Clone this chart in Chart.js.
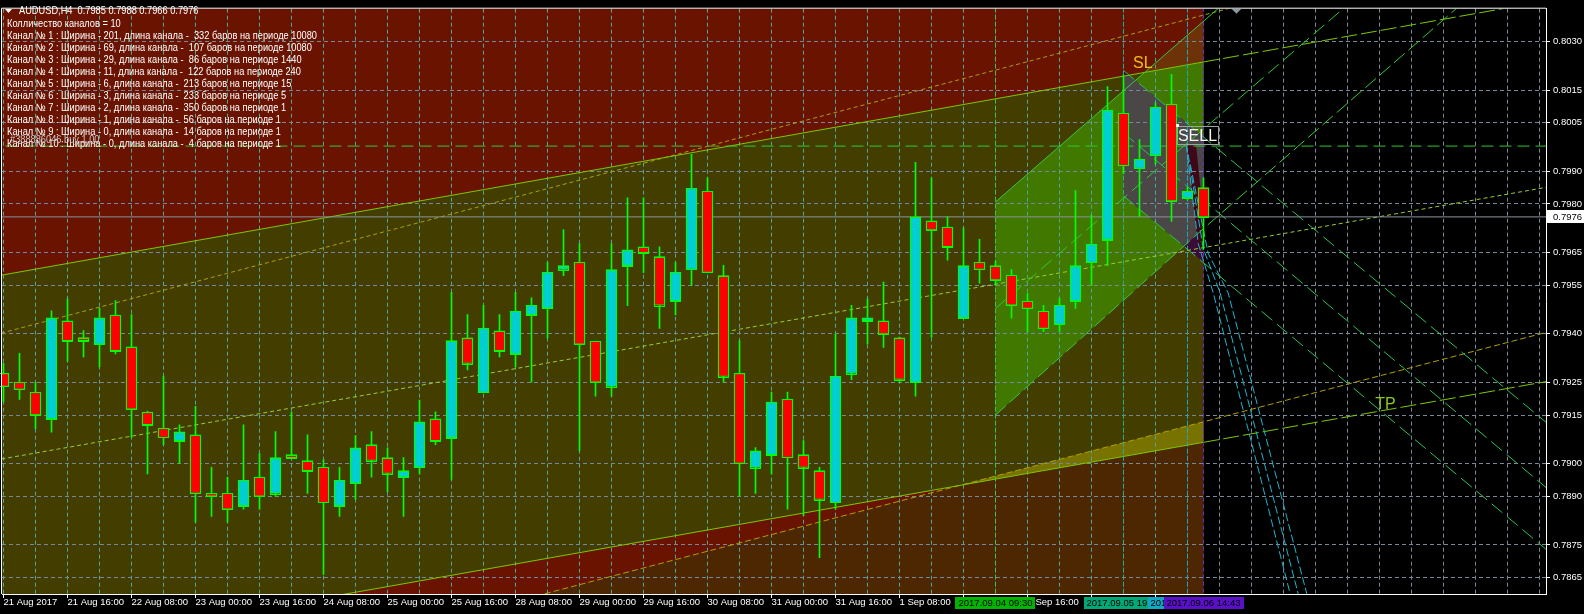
<!DOCTYPE html>
<html>
<head>
<meta charset="utf-8">
<title>AUDUSD,H4</title>
<script src="https://cdn.jsdelivr.net/npm/chart.js@4.4.1/dist/chart.umd.min.js"></script>
<style>
  html, body { margin: 0; padding: 0; background: #000; }
  canvas { display: block; }
</style>
</head>
<body>
<canvas id="chart" width="1584" height="614"></canvas>
<script>
// AUDUSD H4, bar 0 = 21 Aug 2017 00:00 (one bar = 4 hours, weekends skipped)
var opens  = [0.79278,0.79251,0.79220,0.79138,0.79440,0.79388,0.79368,0.79458,0.79360,0.79159,
              0.79109,0.79071,0.79089,0.78901,0.78909,0.78870,0.78959,0.78909,0.79028,0.79010,
              0.78989,0.78870,0.78940,0.79059,0.79019,0.78959,0.78989,0.79138,0.79080,0.79388,
              0.79220,0.79409,0.79338,0.79458,0.79479,0.79598,0.79620,0.79377,0.79238,0.79610,
              0.79668,0.79638,0.79501,0.79598,0.79839,0.79579,0.79278,0.78989,0.79028,0.79199,
              0.79028,0.78979,0.78880,0.79278,0.79440,0.79440,0.79388,0.79251,0.79748,0.79729,
              0.79449,0.79620,0.79610,0.79580,0.79501,0.79470,0.79429,0.79501,0.79620,0.79690,
              0.80079,0.79909,0.79949,0.80107,0.79818,0.79850];
var highs  = [0.79309,0.79340,0.79251,0.79471,0.79508,0.79410,0.79479,0.79502,0.79459,0.79162,
              0.79270,0.79120,0.79177,0.78989,0.78959,0.79120,0.79031,0.79099,0.79159,0.79089,
              0.79013,0.78989,0.79087,0.79099,0.79049,0.79019,0.79196,0.79160,0.79528,0.79459,
              0.79488,0.79459,0.79528,0.79511,0.79620,0.79721,0.79678,0.79378,0.79678,0.79819,
              0.79819,0.79668,0.79620,0.79953,0.79880,0.79611,0.79379,0.79050,0.79221,0.79221,
              0.79071,0.78989,0.79400,0.79488,0.79508,0.79559,0.79390,0.79928,0.79880,0.79760,
              0.79726,0.79691,0.79624,0.79598,0.79524,0.79488,0.79509,0.79841,0.79765,0.80161,
              0.80197,0.79998,0.80111,0.80199,0.79852,0.79880];
var lows   = [0.79191,0.79198,0.79108,0.79097,0.79316,0.79329,0.79298,0.79338,0.79081,0.78969,
              0.79059,0.79001,0.78820,0.78838,0.78820,0.78860,0.78860,0.78900,0.79018,0.78909,
              0.78659,0.78838,0.78890,0.78959,0.78914,0.78838,0.78969,0.79059,0.78952,0.79289,
              0.79219,0.79329,0.79298,0.79251,0.79387,0.79579,0.79040,0.79208,0.79208,0.79487,
              0.79588,0.79417,0.79458,0.79548,0.79588,0.79251,0.78900,0.78909,0.78969,0.78860,
              0.78840,0.78711,0.78860,0.79259,0.79368,0.79358,0.79251,0.79208,0.79389,0.79627,
              0.79448,0.79556,0.79550,0.79448,0.79407,0.79407,0.79407,0.79478,0.79549,0.79610,
              0.79892,0.79761,0.79922,0.79746,0.79812,0.79660];
var closes = [0.79238,0.79229,0.79150,0.79449,0.79379,0.79379,0.79449,0.79348,0.79168,0.79120,
              0.79080,0.79098,0.78909,0.78900,0.78860,0.78949,0.78900,0.79019,0.79019,0.78979,
              0.78880,0.78949,0.79049,0.79010,0.78970,0.78979,0.79129,0.79071,0.79379,0.79309,
              0.79418,0.79348,0.79470,0.79488,0.79589,0.79610,0.79368,0.79251,0.79598,0.79659,
              0.79650,0.79488,0.79589,0.79848,0.79589,0.79269,0.79001,0.79040,0.79190,0.79019,
              0.78989,0.78890,0.79269,0.79449,0.79449,0.79400,0.79260,0.79760,0.79720,0.79668,
              0.79610,0.79598,0.79566,0.79488,0.79478,0.79417,0.79488,0.79610,0.79676,0.80089,
              0.79918,0.79938,0.80098,0.79809,0.79839,0.79760];

// time axis: labelled bars and their labels
var labelBars  = [0, 4, 8, 12, 16, 20, 24, 28, 32, 36, 40, 44, 48, 52, 56, 60, 64, 68, 72];
var timeLabels = ["21 Aug 2017", "21 Aug 16:00", "22 Aug 08:00", "23 Aug 00:00", "23 Aug 16:00",
                  "24 Aug 08:00", "25 Aug 00:00", "25 Aug 16:00", "28 Aug 08:00", "29 Aug 00:00",
                  "29 Aug 16:00", "30 Aug 08:00", "31 Aug 00:00", "31 Aug 16:00", "1 Sep 08:00",
                  "4 Sep 00:00", "4 Sep 16:00", "5 Sep 08:00", "6 Sep 00:00"];

// price axis labels
var priceTicks = [0.8030, 0.8015, 0.8005, 0.7990, 0.7980, 0.7965, 0.7955, 0.7940,
                  0.7925, 0.7915, 0.7900, 0.7890, 0.7875, 0.7865];

// filled channel areas, points are [bar, price]
var redZone    = [[-1, 0.8100], [75, 0.8100], [75, 0.7800], [-1, 0.7800]];
var brownZone  = [[-1, 0.78152], [75, 0.79129], [75, 0.7800], [-1, 0.7800]];
var oliveZone  = [[-1, 0.79573], [75, 0.80237], [75, 0.79066], [-1, 0.78404]];
var yellowZone = [[59.79, 0.78934], [75, 0.79129], [75, 0.79066]];
var greenZone  = [[62, 0.79806], [71.33, 0.80205], [75, 0.80237], [75, 0.79724], [62, 0.79150]];
var rustZone   = [[71.33, 0.80205], [75, 0.80362], [75, 0.80237]];
var shadeZone  = [[70, 0.80211], [75, 0.80006], [75, 0.79620], [70, 0.79825]];
var greyZone   = [[70, 0.80194], [70.34, 0.80197], [75, 0.80006], [75, 0.79724], [73.77, 0.79670], [70, 0.79825]];
var maroonZone = [[73.98, 0.79980], [74.54, 0.79980], [75, 0.79755], [75, 0.79663], [74.67, 0.79663]];

// lines, points are [bar, price]
var oliveTop      = [[-1, 0.79573], [75, 0.80237]];
var oliveTopRay   = [[75, 0.80237], [97, 0.80430]];
var oliveLow      = [[-1, 0.78404], [75, 0.79066]];
var oliveLowRay   = [[75, 0.79066], [97, 0.79258]];
var oliveMid      = [[-1, 0.79007], [97, 0.79856]];
var orangeTop     = [[-1, 0.79391], [97, 0.80668]];
var orangeLow     = [[-1, 0.78152], [97, 0.79412]];
var greenEdgeTop  = [[62, 0.79806], [76.16, 0.80412]];
var greenEdgeLow  = [[62, 0.79150], [75, 0.79724], [92, 0.80453]];
var greenMid      = [[62, 0.79478], [84.67, 0.80441]];
var rayA          = [[70, 0.80211], [97.3, 0.79091]];
var rayB          = [[70, 0.80018], [97.3, 0.78890]];
var rayP          = [[70, 0.79825], [97.3, 0.78700]];
var arc1          = [[73.92, 0.79983], [74.67, 0.79678], [75.61, 0.79526], [80.42, 0.78599]];
var arc2          = [[74.04, 0.79953], [74.98, 0.79663], [76.04, 0.79526], [80.92, 0.78599]];
var arc3          = [[74.17, 0.79922], [75.29, 0.79648], [76.54, 0.79526], [81.46, 0.78599]];
var orderLine     = [[-1, 0.79978], [97, 0.79978]];
var priceLine     = [[-1, 0.79760], [97, 0.79760]];
var vLine62       = [[62, 0.7800], [62, 0.8100]];
var vLine70       = [[70, 0.7800], [70, 0.8100]];
var vLine74       = [[74, 0.7800], [74, 0.8100]];
var vLine75       = [[75, 0.7800], [75, 0.8100]];

// text objects on the chart
var noteTexts  = ["SL", "SELL", "TP"];
var noteBars   = [70.6, 73.34, 85.73];
var notePrices = [0.80218, 0.80039, 0.79170];
var markerBars  = [62, 70, 74, 75];
var markerTexts = ["2017.09.04 09:30", "2017.09.05 19:40", "2017.09.06 08:10", "2017.09.06 14:43"];
var orderText = "#388886046 buy 1.00";
var headerLines = [
  "Колличество каналов = 10",
  "Канал № 1 : Ширина - 201, длина канала -  332 баров на периоде 10080",
  "Канал № 2 : Ширина - 69, длина канала -  107 баров на периоде 10080",
  "Канал № 3 : Ширина - 29, длина канала -  86 баров на периоде 1440",
  "Канал № 4 : Ширина - 11, длина канала -  122 баров на периоде 240",
  "Канал № 5 : Ширина - 6, длина канала -  213 баров на периоде 15",
  "Канал № 6 : Ширина - 3, длина канала -  233 баров на периоде 5",
  "Канал № 7 : Ширина - 2, длина канала -  350 баров на периоде 1",
  "Канал № 8 : Ширина - 1, длина канала -  56 баров на периоде 1",
  "Канал № 9 : Ширина - 0, длина канала -  14 баров на периоде 1",
  "Канал № 10 : Ширина - 0, длина канала -  4 баров на периоде 1"
];

var FONT = '"Liberation Sans", Arial, sans-serif';
var last = opens.length - 1;

// zones in drawing order
var zones = [
  [redZone, '#691300'],
  [brownZone, '#4d2602'],
  [oliveZone, '#433e00'],
  [yellowZone, '#787200'],
  [greenZone, '#417800'],
  [rustZone, '#6e3208'],
  [shadeZone, '#3c0c38'],
  [greyZone, '#4b4747'],
  [maroonZone, '#3e0818']
];

function lineSet(points, color, dash) {
  return {
    type: 'line',
    data: points.map(function(p) { return { x: p[0], y: p[1] }; }),
    borderColor: color,
    borderWidth: 1,
    borderDash: dash || [],
    pointRadius: 0,
    pointHoverRadius: 0,
    tension: 0,
    fill: false,
    order: 3
  };
}

var bodies = {
  type: 'bar',
  data: opens.map(function(o, i) { return { x: i, y: [o, closes[i]] }; }),
  backgroundColor: opens.map(function(o, i) { return closes[i] >= o ? '#00ced1' : '#ff0000'; }),
  borderColor: '#00ff00',
  borderWidth: 1,
  borderSkipped: false,
  barThickness: 11,
  minBarLength: 3,
  grouped: false,
  order: 0
};

var wicks = {
  type: 'bar',
  data: lows.map(function(l, i) { return { x: i, y: [l, highs[i]] }; }),
  backgroundColor: '#00ff00',
  borderWidth: 0,
  barThickness: 1,
  grouped: false,
  order: 1
};

function textScale(ctx, sample, target) {
  return target / ctx.measureText(sample).width;
}

var zonePlugin = {
  id: 'zones',
  beforeDraw: function(chart) {
    var ctx = chart.ctx, a = chart.chartArea;
    var xs = chart.scales.x, ys = chart.scales.y;
    ctx.save();
    ctx.fillStyle = '#000';
    ctx.fillRect(0, 0, chart.width, chart.height);
    ctx.beginPath();
    ctx.rect(a.left, a.top, a.right - a.left, a.bottom - a.top);
    ctx.clip();
    zones.forEach(function(z) {
      ctx.beginPath();
      z[0].forEach(function(p, i) {
        var px = xs.getPixelForValue(p[0]), py = ys.getPixelForValue(p[1]);
        if (i == 0) ctx.moveTo(px, py); else ctx.lineTo(px, py);
      });
      ctx.closePath();
      ctx.fillStyle = z[1];
      ctx.fill();
    });
    ctx.restore();
  },
  afterDatasetsDraw: function(chart) {
    // green outline round every candle body, from the bar elements
    var ctx = chart.ctx;
    var meta = chart.getDatasetMeta(0);
    ctx.save();
    ctx.strokeStyle = '#00ff00';
    ctx.lineWidth = 1;
    meta.data.forEach(function(el) {
      var p = el.getProps(['x', 'y', 'base', 'width'], true);
      var left = Math.round(p.x - p.width / 2);
      var top = Math.round(Math.min(p.y, p.base));
      var h = Math.max(Math.round(Math.abs(p.base - p.y)), 2);
      ctx.strokeRect(left + 0.5, top + 0.5, p.width - 1, h);
    });
    ctx.restore();
  },
  afterDraw: function(chart) {
    var ctx = chart.ctx, a = chart.chartArea;
    var xs = chart.scales.x, ys = chart.scales.y;
    ctx.save();

    // left and top border
    ctx.strokeStyle = '#fff';
    ctx.lineWidth = 1;
    ctx.beginPath();
    ctx.moveTo(a.left - 0.5, a.bottom);
    ctx.lineTo(a.left - 0.5, a.top - 0.5);
    ctx.lineTo(a.right, a.top - 0.5);
    ctx.stroke();

    // header
    ctx.fillStyle = '#fff';
    ctx.beginPath();
    ctx.moveTo(5, 9); ctx.lineTo(12, 9); ctx.lineTo(8.5, 13);
    ctx.closePath();
    ctx.fill();
    ctx.font = '10.5px ' + FONT;
    ctx.textBaseline = 'middle';
    ctx.textAlign = 'left';
    var sx = textScale(ctx, headerLines[1], 310);
    var head = 'AUDUSD,H4  ' + [opens[last], highs[last], lows[last], closes[last]]
      .map(function(v) { return v.toFixed(4); }).join(' ');
    ctx.save();
    ctx.scale(sx, 1);
    ctx.fillText(head, 19 / sx, 11);
    headerLines.forEach(function(t, i) {
      ctx.fillText(t, 7 / sx, 24 + i * 12);
    });
    ctx.fillStyle = '#c8c8c8';
    ctx.fillText(orderText, 10 / sx, ys.getPixelForValue(orderLine[0][1]) - 6);
    ctx.restore();

    // SL / SELL / TP
    ctx.font = '16px ' + FONT;
    ctx.textBaseline = 'alphabetic';
    var slX = xs.getPixelForValue(noteBars[0]), slY = ys.getPixelForValue(notePrices[0]);
    ctx.fillStyle = '#f0c010';
    ctx.fillText(noteTexts[0], slX, slY);

    var seX = xs.getPixelForValue(noteBars[1]), seY = ys.getPixelForValue(notePrices[1]);
    ctx.strokeStyle = '#a0a0a0';
    ctx.strokeRect(Math.round(seX) + 0.5, Math.round(seY) + 0.5, 41, 18);
    ctx.fillStyle = '#f4f4f4';
    ctx.fillText(noteTexts[1], seX + 1, seY + 15);
    ctx.fillRect(Math.round(seX) - 1, Math.round(seY) - 2, 3, 3);

    var tpX = xs.getPixelForValue(noteBars[2]), tpY = ys.getPixelForValue(notePrices[2]);
    ctx.fillStyle = '#8cc81e';
    ctx.fillText(noteTexts[2], tpX, tpY);

    // chart shift marker
    var mx = xs.getPixelForValue(77.06);
    ctx.fillStyle = '#8c96a0';
    ctx.beginPath();
    ctx.moveTo(mx - 5, a.top); ctx.lineTo(mx + 5, a.top); ctx.lineTo(mx, a.top + 5);
    ctx.closePath();
    ctx.fill();

    // vertical line time labels
    var boxColors = ['#00b400', '#00a878', '#12a8c4', '#5a10c8'];
    ctx.font = '9.5px ' + FONT;
    ctx.textBaseline = 'middle';
    ctx.textAlign = 'center';
    markerBars.forEach(function(b, i) {
      var cx = xs.getPixelForValue(b);
      ctx.fillStyle = boxColors[i];
      ctx.fillRect(Math.round(cx - 40), a.bottom + 3, 80, 12);
      ctx.fillStyle = '#000';
      ctx.fillText(markerTexts[i], cx, a.bottom + 9.5);
    });

    // current price label
    var py = ys.getPixelForValue(closes[last]);
    ctx.fillStyle = '#fff';
    ctx.fillRect(a.right + 1, Math.round(py) - 7, chart.width - a.right - 1, 13);
    ctx.fillStyle = '#000';
    ctx.textAlign = 'left';
    ctx.fillText(closes[last].toFixed(4), a.right + 7, py);

    ctx.restore();
  }
};

var ctx = document.getElementById('chart');

var chart = new Chart(ctx, {
  type: 'bar',
  data: {
    datasets: [
      bodies,
      wicks,
      lineSet(priceLine, '#8a949e'),
      lineSet(orderLine, '#32c832', [12, 6]),
      lineSet(arc1, '#1eb4cc', [8, 3]),
      lineSet(arc2, '#1eb4cc', [8, 3]),
      lineSet(arc3, '#1eb4cc', [8, 3]),
      lineSet(rayA, '#2ec05a', [14, 6]),
      lineSet(rayB, '#2ec05a', [14, 6]),
      lineSet(rayP, '#2ec05a', [14, 6]),
      lineSet(greenEdgeTop, '#3cc83c'),
      lineSet(greenEdgeLow, '#3cc83c', [14, 5]),
      lineSet(greenMid, '#32c832', [14, 6]),
      lineSet(vLine62, '#3cc83c', [4, 3]),
      lineSet(vLine70, '#14b48c', [4, 3]),
      lineSet(vLine74, '#14a8c8', [4, 3]),
      lineSet(vLine75, '#6a2ad0', [4, 3]),
      lineSet(oliveTop, '#7cc800'),
      lineSet(oliveTopRay, '#7cc800', [16, 4]),
      lineSet(oliveLow, '#7cc800'),
      lineSet(oliveLowRay, '#7cc800', [16, 4]),
      lineSet(oliveMid, '#9acd32', [4, 3]),
      lineSet(orangeTop, '#a8a010', [4, 3]),
      lineSet(orangeLow, '#b0a000', [6, 3])
    ]
  },
  options: {
    responsive: false,
    devicePixelRatio: 1,
    animation: false,
    events: [],
    layout: { padding: { left: 2, top: 3, right: 0, bottom: 0 } },
    plugins: {
      legend: { display: false },
      tooltip: { enabled: false }
    },
    scales: {
      x: {
        type: 'linear',
        min: -0.09375,
        max: 96.40625,
        offset: false,
        afterFit: function(scale) { scale.height = 20; },
        afterBuildTicks: function(scale) {
          var t = [];
          for (var b = 0; b <= 96; b += 2) t.push({ value: b });
          scale.ticks = t;
        },
        grid: {
          offset: false,
          color: function(c) { return c.tick && c.tick.value <= 75 ? '#4aa8a0' : '#778899'; },
          tickColor: function(c) { return c.tick && labelBars.indexOf(c.tick.value) >= 0 ? '#ffffff' : 'rgba(0,0,0,0)'; },
          tickLength: 4
        },
        border: { display: true, color: '#ffffff', width: 1, dash: [4, 3] },
        ticks: {
          autoSkip: false,
          maxRotation: 0,
          minRotation: 0,
          align: 'start',
          padding: -1,
          color: '#ffffff',
          font: { family: FONT, size: 9.5 },
          callback: function(value) {
            var k = labelBars.indexOf(value);
            return k < 0 ? '' : timeLabels[k];
          }
        }
      },
      y: {
        type: 'linear',
        position: 'right',
        min: 0.78599,
        max: 0.80401,
        afterFit: function(scale) { scale.width = 38; },
        afterBuildTicks: function(scale) {
          scale.ticks = priceTicks.map(function(v) { return { value: v }; });
        },
        grid: { color: '#778899', tickColor: '#ffffff', tickLength: 4 },
        border: { display: true, color: '#ffffff', width: 1, dash: [4, 3] },
        ticks: {
          padding: 3,
          color: '#ffffff',
          font: { family: FONT, size: 9.5 },
          callback: function(value) { return value.toFixed(4); }
        }
      }
    }
  },
  plugins: [zonePlugin]
});
</script>
</body>
</html>
